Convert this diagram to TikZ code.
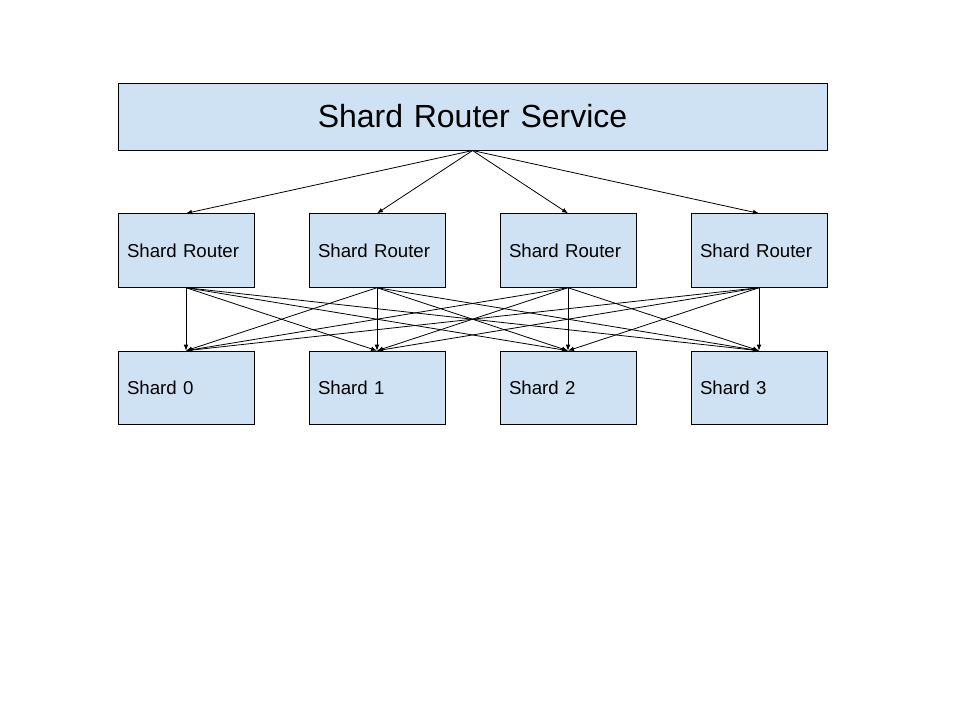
\documentclass[tikz,border=0pt]{standalone}
\usepackage{fontspec}
\setmainfont{Liberation Sans}
\usetikzlibrary{arrows.meta,positioning}
\definecolor{paleblue}{HTML}{CFE2F3}
\definecolor{ink}{HTML}{000000}
\tikzset{box/.style={draw=ink,fill=paleblue,line width=.75pt,align=left,font=\fontsize{14}{16}\selectfont,text width=88.5pt,inner xsep=6.75pt,minimum height=55pt}, head/.style={box,align=center,font=\fontsize{24}{28}\selectfont,text width=518.25pt,minimum height=50.25pt}, flow/.style={-{Latex[length=4.5pt,width=3.5pt]},line width=.6pt,draw=ink}}

\begin{document}
\begin{tikzpicture}[node distance=40.5pt]
\useasboundingbox (0,0) rectangle (720pt,-540pt);
\node[head] (svc) at (354.4pt,-87.4pt) {Shard Router Service};
\node[box] (r0) at (139.5pt,-187.9pt) {Shard Router};
\node[box,right=of r0] (r1) {Shard Router};
\node[box,right=of r1] (r2) {Shard Router};
\node[box,right=of r2] (r3) {Shard Router};
\node[box,below=47.25pt of r0] (s0) {Shard 0};
\node[box,below=47.25pt of r1] (s1) {Shard 1};
\node[box,below=47.25pt of r2] (s2) {Shard 2};
\node[box,below=47.25pt of r3] (s3) {Shard 3};
\foreach \i in {0,...,3}{\draw[flow] (svc.south)--(r\i.north);
  \foreach \j in {0,...,3}\draw[flow] (r\i.south)--(s\j.north);}
\end{tikzpicture}
\end{document}
